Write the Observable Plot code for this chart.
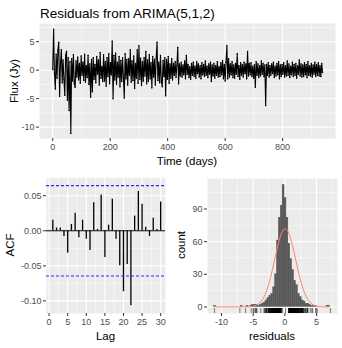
<!DOCTYPE html>
<html><head><meta charset="utf-8">
<script src="https://cdn.jsdelivr.net/npm/d3@7"></script>
<script src="https://cdn.jsdelivr.net/npm/@observablehq/plot@0.6"></script>
<style>
body{margin:0;background:#fff;}
#c{position:relative;width:342px;height:348px;font-family:"Liberation Sans",Arial,sans-serif;overflow:hidden;background:#fff}
#c svg{position:absolute}
.t{position:absolute;font-size:11.5px;line-height:1;color:#000;white-space:nowrap}
</style></head><body><div id="c"></div>
<script>
// ---- data ----
const residuals = [
 0.1, 7.2, -0.5, -3.3, 2.8, -1.4, 3.5, 4.9, -4.6, 1.2,
 3.6, -2.2, 1.8, -1.6, -4.4, 2.6, 3.3, -5.3, 2.2, -7.1,
 1.5, -11.1, 2.0, -1.9, 2.7, -2.4, -3.0, 1.6, -1.2, 2.3,
 -1.7, 1.2, -2.3, 2.5, -0.9, 1.4, -1.8, 2.8, -2.1, 0.8,
 -1.3, 2.6, -2.5, 1.1, -4.7, 1.9, -3.8, 2.2, -1.6, 1.0,
 -2.2, 2.4, -0.7, 1.8, -2.6, 3.1, -1.4, 0.6, -2.0, 2.7,
 -1.9, 1.5, -2.8, 2.2, -1.1, 2.9, -2.4, 1.3, -0.8, 5.1,
 -5.0, 2.6, -1.7, 3.0, -2.5, 1.4, -1.2, 2.4, -2.9, 1.7,
 -2.0, 2.2, -1.3, -4.9, 2.9, -1.5, 1.9, -2.6, 2.0, -0.9,
 3.6, -2.1, 1.6, -1.8, 2.5, -3.2, 1.2, -1.4, 3.6, -2.3,
 4.3, -1.6, 2.1, -2.7, 1.5, -1.9, 2.2, -1.0, 3.3, -2.4,
 1.8, -2.0, 2.7, -1.5, 1.3, -3.1, 2.4, -1.2, 1.9, -2.6,
 2.1, 4.9, -1.8, 1.4, -2.2, 2.6, -2.0, -2.9, 1.7, -1.1,
 2.2, -4.5, 1.9, -1.6, 2.4, -2.3, 1.1, -1.4, 2.0, -1.7,
 1.2, -0.9, 1.5, -1.3, 0.8, 4.0, -2.4, 1.1, -1.0, 1.4,
 -1.2, 0.9, -0.8, 1.6, -1.5, 2.6, -0.7, 1.0, -1.3, 0.6,
 -1.6, 1.2, -0.9, 1.4, -1.1, 0.7, -1.4, 1.5, -0.6, 1.1,
 -1.2, 0.8, -1.5, 1.3, -0.8, 1.0, -1.1, 1.6, -0.9, 0.7,
 -1.3, 1.1, -0.7, 1.4, -2.0, 0.9, -1.0, 1.2, -1.4, 0.8,
 -0.9, 1.5, -1.2, 0.6, -1.1, 1.3, -0.8, 1.7, -1.5, 1.0,
 -1.9, 1.4, 4.3, -1.5, 2.0, -1.2, 1.1, -0.8, 1.5, -1.3,
 0.9, -1.4, 1.2, -0.7, 2.9, -1.1, 0.8, -1.6, 1.3, -0.9,
 1.0, -1.2, 1.4, -0.6, 1.1, -1.5, 3.3, -1.0, 1.2, -0.8,
 1.3, -1.1, 0.7, -1.4, 1.0, -3.0, 1.5, -0.9, 1.1, -1.3,
 0.8, -1.0, 1.6, -0.7, 1.2, -1.1, 0.9, -6.2, 1.0, -0.9,
 1.3, -1.2, 0.8, -0.9, 1.1, -0.6, 1.4, -1.3, 0.7, -1.0,
 1.2, -0.8, 1.5, -1.5, 0.9, -1.1, 1.0, -0.7, 1.3, -1.2,
 0.8, -1.0, 1.6, -0.9, 1.1, -1.3, 0.7, -0.8, 1.4, -1.1,
 1.0, -0.9, 1.2, -1.4, 0.8, -0.7, 1.8, -1.0, 1.1, -1.2,
 0.9, -1.1, 1.3, -0.8, 1.0, -1.3, 1.5, -0.9, 0.8, -1.0,
 1.2, -1.2, 0.9, -0.7, 1.4, -1.1, 1.0, -0.9, 1.3, -1.0,
 0.8, -1.1, 1.2, -0.4
];
const sampleStepDays = 3;

const lags = [1,2,3,4,5,6,7,8,9,10,11,12,13,14,15,16,17,18,19,20,21,22,23,24,25,26,27,28,29,30];
const acfValues = [0.015,0.004,0.004,-0.008,-0.032,0.009,0.025,-0.010,0.015,-0.012,
                   -0.028,0.040,0.002,0.051,-0.038,0.008,0.045,-0.012,-0.050,-0.087,
                   -0.048,-0.107,0.021,0.056,0.038,0.005,-0.008,0.018,0.002,0.041];
const acfLimit = 0.0645;

const binStart = -11.15, binWidth = 0.3;
const binCounts = [1,0,0,0,0,0,0,0,0,0, 0,0,0,0,1,0,0,1,0,1,
                   2,2,2,1,2,3,4,6,8,10, 12,18,30,61,82,93,112,100,82,58,
                   44,34,24,20,12,9,6,5,3,3, 2,1,1,1,0,0,0,0,0,1, 1];
const normX = [-11,-6,-5,-4.5,-4,-3.5,-3,-2.5,-2,-1.5,-1,-0.5,0,0.5,1,1.5,2,2.5,3,3.5,4,4.5,5,6,7];
const normY = [0,0.1,0.7,1.6,3.5,7.1,13.0,21.8,33.3,46.3,58.8,68.1,72.0,69.4,61.0,48.9,35.8,23.9,14.6,8.1,4.1,1.9,0.8,0.1,0];

const timeTicks = [0,200,400,600,800], timeMinor = [100,300,500,700,900];
const fluxTicks = [-10,-5,0,5], fluxMinor = [-7.5,-2.5,2.5,7.5];
const lagTicks = [0,5,10,15,20,25,30], lagMinor = [2.5,7.5,12.5,17.5,22.5,27.5];
const acfTicks = [-0.10,-0.05,0,0.05], acfMinor = [-0.075,-0.025,0.025,0.075];
const resTicks = [-10,-5,0,5], resMinor = [-7.5,-2.5,2.5,7.5];
const countTicks = [0,30,60,90], countMinor = [15,45,75,105];

// ---- build ----
const FONT = '"Liberation Sans", Arial, sans-serif';
const PANEL = "#EBEBEB";
function grid(xMaj, xMin, yMaj, yMin) {
  return [
    Plot.frame({fill: PANEL, stroke: null}),
    Plot.ruleX(xMin, {stroke: "white", strokeWidth: 0.5}),
    Plot.ruleY(yMin, {stroke: "white", strokeWidth: 0.5}),
    Plot.ruleX(xMaj, {stroke: "white", strokeWidth: 1.1}),
    Plot.ruleY(yMaj, {stroke: "white", strokeWidth: 1.1})
  ];
}
function axes(xt, yt, xf, yf) {
  return [
    Plot.axisX({ticks: xt, tickSize: 3, tickPadding: 2, stroke: "#333", fill: "#4d4d4d", fontSize: 9, label: null, tickFormat: xf}),
    Plot.axisY({ticks: yt, tickSize: 3, tickPadding: 2, stroke: "#333", fill: "#4d4d4d", fontSize: 9, label: null, tickFormat: yf})
  ];
}
const plain = d => String(d);
const series = residuals.map((r, i) => ({t: i * sampleStepDays, r}));

const topChart = Plot.plot({
  width: 342, height: 172, marginLeft: 39, marginRight: 7, marginTop: 23, marginBottom: 34,
  style: {fontFamily: FONT, background: "transparent"},
  x: {domain: [-46, 984]}, y: {domain: [-12, 8.2]},
  marks: [
    ...grid(timeTicks, timeMinor, fluxTicks, fluxMinor),
    Plot.line(series, {x: "t", y: "r", stroke: "black", strokeWidth: 1.1}),
    Plot.dot(series, {x: "t", y: "r", r: 0.7, fill: "black", stroke: null}),
    ...axes(timeTicks, fluxTicks, plain, plain)
  ]
});
topChart.style.left = "0px"; topChart.style.top = "0px";

const acfData = lags.map((l, i) => ({lag: l, acf: acfValues[i]}));
const acfChart = Plot.plot({
  width: 171, height: 176, marginLeft: 46, marginRight: 6, marginTop: 5, marginBottom: 35,
  style: {fontFamily: FONT, background: "transparent"},
  x: {domain: [-0.7, 31.3]}, y: {domain: [-0.118, 0.076]},
  marks: [
    ...grid(lagTicks, lagMinor, acfTicks, acfMinor),
    Plot.ruleY([0], {stroke: "black", strokeWidth: 1}),
    Plot.ruleX(acfData, {x: "lag", y1: 0, y2: "acf", stroke: "black", strokeWidth: 1.3}),
    Plot.ruleY([acfLimit], {stroke: "#2a2aff", strokeWidth: 1.2, strokeDasharray: "3,2"}),
    Plot.ruleY([-acfLimit], {stroke: "#2a2aff", strokeWidth: 1.2, strokeDasharray: "3,2"}),
    ...axes(lagTicks, acfTicks, plain, d => d.toFixed(2))
  ]
});
acfChart.style.left = "0px"; acfChart.style.top = "172px";

const histData = binCounts.map((c, i) => ({x0: binStart + i * binWidth, x1: binStart + (i + 1) * binWidth, count: c}));
const normData = normX.map((x, i) => ({x, y: normY[i]}));
const histChart = Plot.plot({
  width: 171, height: 176, marginLeft: 36, marginRight: 5, marginTop: 6, marginBottom: 35,
  style: {fontFamily: FONT, background: "transparent"},
  x: {domain: [-12.2, 8.3]}, y: {domain: [-6, 118]},
  marks: [
    ...grid(resTicks, resMinor, countTicks, countMinor),
    Plot.rectY(histData.filter(d => d.count > 0), {x1: "x0", x2: "x1", y1: 0, y2: "count", fill: "#595959", stroke: "#595959", strokeWidth: 0.4}),
    Plot.ruleX(residuals, {x: d => d, y1: -6, y2: -1.5, stroke: "black", strokeWidth: 0.5}),
    Plot.line(normData, {x: "x", y: "y", stroke: "#F8866A", strokeWidth: 1, curve: "monotone-x"}),
    ...axes(resTicks, countTicks, plain, plain)
  ]
});
histChart.style.left = "171px"; histChart.style.top = "172px";

const container = document.getElementById("c");
container.append(topChart, acfChart, histChart);
function label(text, x, y, opts = {}) {
  const d = document.createElement("div");
  d.className = "t";
  d.textContent = text;
  d.style.left = x + "px"; d.style.top = y + "px";
  d.style.transform = opts.rot ? "translate(-50%,-50%) rotate(-90deg)" : "translate(-50%,0)";
  if (opts.size) d.style.fontSize = opts.size + "px";
  if (opts.left) d.style.transform = "none";
  container.append(d);
}
label("Residuals from ARIMA(5,1,2)", 40, 6.5, {size: 13.5, left: true});
label("Time (days)", 187, 156);
label("Flux (Jy)", 14.5, 80.5, {rot: true});
label("Lag", 105.5, 331);
label("ACF", 11, 245, {rot: true});
label("residuals", 272, 331);
label("count", 182, 245, {rot: true});
</script></body></html>
